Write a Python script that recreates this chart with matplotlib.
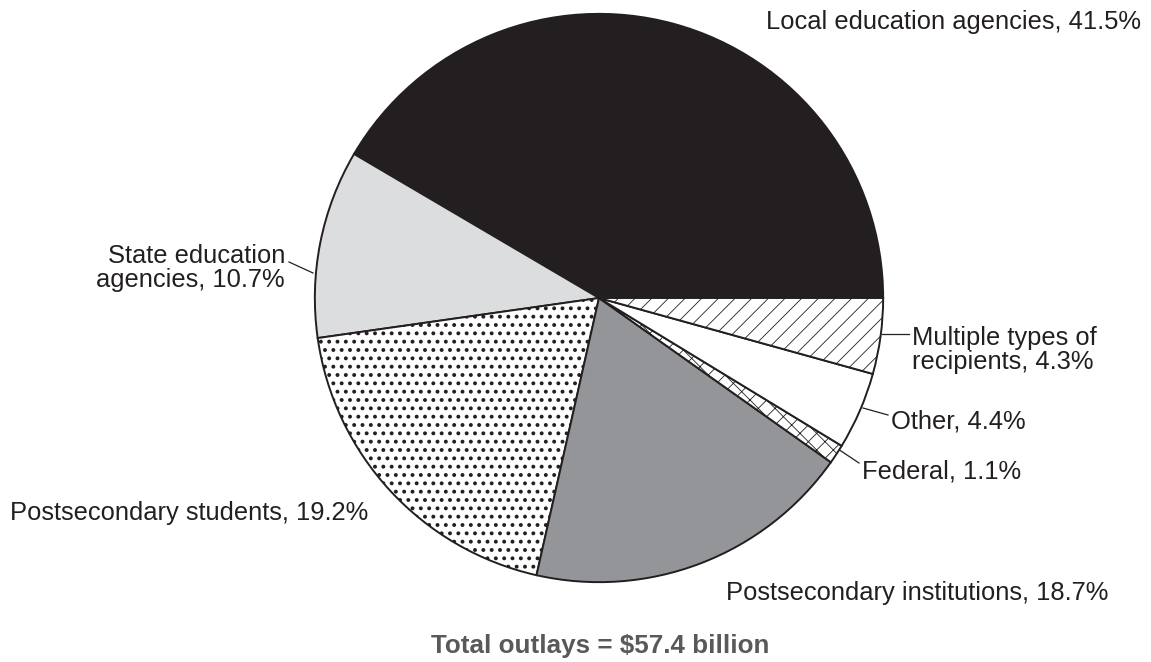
import matplotlib
matplotlib.use("Agg")
import matplotlib.pyplot as plt

categories = ["Local education agencies", "State education agencies", "Postsecondary students",
              "Postsecondary institutions", "Federal", "Other", "Multiple types of recipients"]
shares = [41.5, 10.7, 19.2, 18.7, 1.1, 4.4, 4.3]
label_texts = ["Local education agencies, 41.5%", "State education\nagencies, 10.7%",
               "Postsecondary students, 19.2%", "Postsecondary institutions, 18.7%",
               "Federal, 1.1%", "Other, 4.4%", "Multiple types of\nrecipients, 4.3%"]
title_text = "Total outlays = $57.4 billion"

colors = ["#231f20", "#dcddde", "white", "#939598", "white", "white", "white"]
hatches = [None, None, "..", None, "xx", None, "//"]

plt.rcParams['font.family'] = ['Liberation Sans', 'DejaVu Sans']
plt.rcParams['hatch.linewidth'] = 0.6

W, H = 1151, 662
fig = plt.figure(figsize=(W/100, H/100), dpi=100)
ax = fig.add_axes([0, 0, 1, 1])
ax.set_xlim(0, W)
ax.set_ylim(H, 0)
ax.axis('off')

cx, cy, R = 599, 298, 285
pax = fig.add_axes([(cx-R)/W, (H-cy-R)/H, 2*R/W, 2*R/H])
wedges, _ = pax.pie(shares, startangle=0, counterclock=True, colors=colors,
                    wedgeprops=dict(edgecolor="#231f20", linewidth=1.4))
for w, h in zip(wedges, hatches):
    if h:
        w.set_hatch(h)
        if h == ".." and hasattr(w, "set_hatch_linewidth"):
            w.set_hatch_linewidth(1.6)
pax.set_aspect('equal')
pax.set_xlim(-1.003, 1.003)
pax.set_ylim(-1.003, 1.003)
pax.axis('off')

fs = 18.4
tc = "#231f20"
ax.text(1141, 22, label_texts[0], ha='right', va='center', fontsize=fs, color=tc)
ax.text(285, 268, label_texts[1], ha='right', va='center', fontsize=fs, color=tc, linespacing=0.98)
ax.plot([289, 313], [262, 273], color=tc, lw=0.9)
ax.text(10, 513, label_texts[2], ha='left', va='center', fontsize=fs, color=tc)
ax.text(726, 593, label_texts[3], ha='left', va='center', fontsize=fs, color=tc)
ax.text(862, 471, label_texts[4], ha='left', va='center', fontsize=fs, color=tc)
ax.plot([835, 859], [447, 463], color=tc, lw=0.9)
ax.text(891, 421, label_texts[5], ha='left', va='center', fontsize=fs, color=tc)
ax.plot([863, 888], [408, 415], color=tc, lw=0.9)
ax.text(912, 350, label_texts[6], ha='left', va='center', fontsize=fs, color=tc, linespacing=0.98)
ax.plot([882, 909], [334, 334], color=tc, lw=0.9)

ax.text(600, 646, title_text, ha='center', va='center', fontsize=18.7, fontweight='bold', color="#58595b")

fig.savefig("out.png", dpi=100)
